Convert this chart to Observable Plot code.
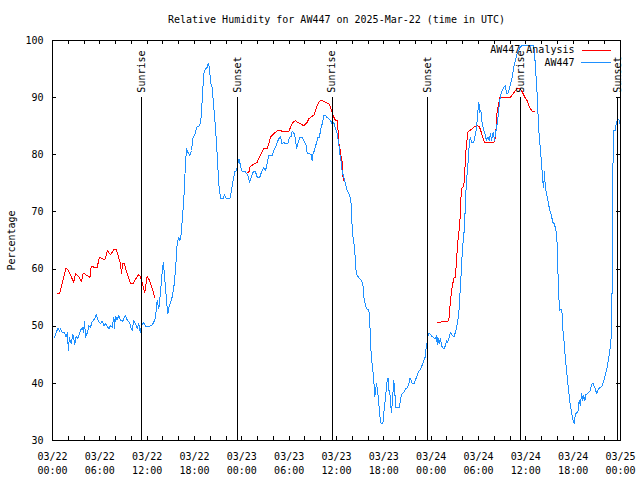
<!DOCTYPE html>
<html><head><meta charset="utf-8">
<script src="https://cdn.jsdelivr.net/npm/d3@7"></script>
<script src="https://cdn.jsdelivr.net/npm/@observablehq/plot@0.6"></script>
<style>html,body{margin:0;padding:0;background:#fff}svg{display:block}</style>
</head><body><div id="chart"></div>
<script>
const title = "Relative Humidity for AW447 on 2025-Mar-22 (time in UTC)";
const yLabel = "Percentage";
const startUTC = Date.UTC(2025, 2, 22, 0, 0);
const xEndHours = 72;
const yTicks = [30, 40, 50, 60, 70, 80, 90, 100];

// AW447 observations: hours since 03/22 00:00 UTC and relative humidity (%)
const blueHours = [0.25,0.67,0.9,1.0,1.22,1.5,1.73,1.94,1.98,2.15,2.37,2.57,2.83,3.0,3.2,3.34,3.55,3.76,3.93,4.06,4.18,4.44,4.6,4.82,4.99,5.33,5.54,5.79,6.08,6.3,6.5,6.72,7.14,7.35,7.57,7.78,7.86,7.99,8.2,8.4,8.62,8.9,9.25,9.47,9.76,9.93,10.1,10.3,10.52,10.74,10.94,11.11,11.28,11.57,11.79,12.2,12.55,12.84,13.06,13.27,13.47,13.69,13.9,14.05,14.32,14.45,14.62,14.75,14.96,15.17,15.38,15.59,15.8,16.0,16.15,16.32,16.44,16.64,16.77,16.98,17.15,17.4,17.62,17.83,18.1,18.25,18.66,18.85,18.97,19.18,19.39,19.6,19.73,19.9,20.03,20.24,20.45,20.66,20.87,21.08,21.3,21.65,21.8,22.02,22.48,22.69,22.9,23.1,23.33,23.5,23.63,23.83,24.04,24.46,24.75,25.0,25.18,25.44,25.73,25.95,26.28,26.5,26.78,27.0,27.2,27.42,27.84,28.05,28.27,28.48,28.69,28.9,29.1,29.32,29.53,29.82,30.04,30.25,30.38,30.58,30.8,30.93,31.1,31.35,31.65,31.86,32.2,32.28,32.5,32.83,32.91,33.0,33.2,33.42,33.63,33.84,33.97,34.18,34.4,34.6,34.82,35.03,35.24,35.45,35.66,35.87,36.08,36.29,36.41,36.6,36.72,36.93,37.14,37.35,37.56,37.77,37.9,37.99,38.2,38.3,38.41,38.62,38.96,39.13,39.34,39.46,39.67,39.88,40.09,40.22,40.31,40.44,40.6,40.73,40.86,40.94,41.07,41.2,41.37,41.49,41.66,41.87,41.99,42.12,42.3,42.42,42.55,42.63,42.75,42.84,42.97,43.06,43.18,43.26,43.39,43.48,43.69,43.99,44.11,44.32,44.54,44.75,44.96,45.17,45.3,45.47,45.6,45.8,46.01,46.22,46.36,46.56,46.73,46.94,47.06,47.24,47.32,47.45,47.57,47.7,47.91,48.12,48.33,48.55,48.7,48.76,48.84,49.0,49.15,49.4,49.6,49.8,49.94,50.1,50.24,50.45,50.66,50.87,51.08,51.3,51.5,51.63,51.8,51.93,52.06,52.23,52.35,52.48,52.65,52.77,52.9,52.98,53.1,53.4,53.53,53.7,53.83,53.96,54.04,54.17,54.3,54.47,54.67,54.88,55.0,55.18,55.35,55.52,55.64,55.86,56.03,56.28,56.44,56.57,56.7,56.87,57.0,57.2,57.42,57.55,57.72,57.84,58.05,58.27,58.47,58.69,58.9,59.1,59.32,59.53,61.0,61.2,61.43,61.64,61.85,62.0,62.14,62.27,62.35,62.48,62.8,63.0,63.2,63.42,63.63,63.85,63.98,64.05,64.18,64.31,64.48,64.6,64.73,64.9,65.02,65.15,65.28,65.45,65.62,65.79,66.0,66.13,66.26,66.43,66.6,66.77,66.9,67.07,67.2,67.33,67.5,67.6,67.8,68.0,68.15,68.37,68.55,68.8,68.97,69.2,69.46,69.67,69.88,70.1,70.31,70.52,70.73,70.86,70.93,71.0,71.13,71.35,71.48,71.65,71.87,72.0];
const blueValues = [48.0,49.65,49.1,49.65,48.95,48.95,48.1,48.95,45.75,48.0,46.9,48.6,46.8,48.3,47.8,48.4,49.25,49.8,48.95,50.9,48.1,48.95,50.1,49.8,50.7,51.3,52.0,51.0,50.4,50.9,50.1,50.4,49.55,50.1,49.8,51.6,49.65,51.7,51.1,51.9,51.0,50.9,51.9,51.1,50.7,49.8,49.25,51.0,50.4,49.55,50.4,48.95,50.1,50.7,50.0,50.0,50.1,50.7,51.6,54.5,53.0,56.0,59.45,61.2,56.8,54.5,52.2,53.3,54.2,55.1,56.8,59.75,64.4,65.6,65.0,66.2,68.5,72.0,76.1,81.05,80.45,79.9,80.75,83.1,83.7,84.8,85.1,86.6,89.5,94.2,95.05,95.3,96.0,95.3,92.7,91.8,88.3,84.8,80.2,74.9,72.3,72.3,73.05,72.3,72.3,73.75,75.5,77.0,77.25,78.4,79.3,78.1,77.0,77.0,76.4,75.2,76.0,77.0,77.0,76.1,76.1,77.0,77.8,77.2,78.4,79.9,79.9,80.75,81.3,82.2,82.8,83.2,81.9,82.2,81.9,81.9,83.1,83.2,84.1,83.9,82.8,81.05,81.9,83.1,83.1,82.5,81.6,80.2,80.2,80.0,79.0,80.0,80.75,81.9,83.0,83.1,84.25,85.4,86.9,86.9,86.5,86.3,86.0,85.4,85.6,84.55,83.7,81.9,80.2,78.7,77.0,76.1,74.9,73.75,73.2,72.3,71.0,66.75,64.4,64.1,60.3,58.9,58.3,58.0,57.5,55.1,53.6,53.0,53.0,51.0,46.9,44.3,42.5,40.5,37.6,38.75,39.9,38.75,36.4,34.4,32.9,32.9,34.7,36.4,38.75,40.5,40.9,38.75,38.75,36.4,34.95,36.4,38.75,40.5,38.75,35.8,35.8,35.8,37.3,38.2,38.5,39.05,39.2,39.9,40.9,40.5,39.9,39.9,40.6,41.4,42.0,42.25,42.8,43.4,44.0,44.6,45.75,46.9,48.1,48.8,48.55,48.2,48.0,47.8,48.3,46.8,48.1,47.0,47.8,46.3,46.0,46.6,47.5,47.2,47.8,48.95,48.4,48.1,48.95,50.4,52.2,55.1,59.2,62.7,65.0,67.3,72.0,75.5,78.1,80.75,82.5,83.1,82.2,82.2,83.1,84.25,86.0,88.3,89.2,87.45,87.75,85.4,84.25,83.4,82.5,83.1,82.5,83.7,82.5,83.95,82.5,84.8,86.0,88.05,89.5,90.7,91.25,91.8,92.1,90.7,90.7,91.25,92.4,93.6,95.3,96.5,97.7,98.25,98.95,99.1,99.1,95.9,90.7,84.25,80.75,78.4,75.5,74.3,77.0,74.3,72.0,70.5,69.6,68.2,67.9,66.45,64.4,60.3,55.1,52.75,53.0,52.2,48.7,46.6,44.0,42.55,40.5,38.45,36.4,34.95,33.5,32.9,34.4,34.95,34.95,37.0,36.1,38.2,37.0,37.9,37.0,38.05,38.2,38.45,38.75,39.9,39.9,39.05,38.2,39.05,39.3,39.6,40.5,41.7,42.8,44.6,46.6,48.7,56.25,74.9,84.25,84.25,85.7,86.3,86.0,84.7];

// AW447 Analysis: hours and values; null marks a gap in the analysis
const redHours = [0.67,0.9,1.73,1.94,2.7,2.92,3.34,3.68,3.89,4.6,4.75,4.9,5.66,5.96,6.63,6.97,7.35,7.82,8.07,8.62,8.75,8.88,9.1,9.67,9.93,10.18,10.86,11.1,11.28,11.57,11.7,12.0,12.3,12.72,12.97,
  18.0,
  24.68,24.9,25.0,25.2,25.7,25.9,26.15,26.45,26.78,27.2,27.42,27.63,27.84,28.27,28.55,28.9,29.1,29.53,29.95,30.17,30.5,30.8,31.0,31.44,31.86,32.28,32.49,32.83,33.13,33.34,33.55,33.76,33.97,34.39,34.6,35.03,35.24,35.45,35.66,35.87,36.08,36.16,36.29,36.41,36.5,36.6,36.72,36.85,37.01,
  43.0,
  48.84,50.03,50.24,50.45,50.66,50.87,51.08,51.2,51.4,51.63,51.8,51.93,52.14,52.26,52.44,52.65,52.9,53.2,53.5,53.83,54.08,54.25,54.46,54.67,54.8,55.94,56.07,56.28,56.36,56.57,56.7,57.55,58.05,58.39,58.69,58.9,59.2,59.57,59.86,60.07,60.17,60.38,60.6,60.81,61.1];
const redValues = [55.67,55.67,60.2,59.9,57.7,59.2,58.6,57.8,59.3,58.7,58.5,60.4,60.3,62.1,61.6,63.2,62.5,63.5,63.5,60.9,59.3,60.9,60.9,58.3,57.4,57.4,59.0,58.8,58.0,56.5,55.9,58.75,58.0,56.25,55.0,
  null,
  76.8,77.0,77.8,78.1,78.5,78.6,79.3,80.2,81.05,81.05,81.9,83.1,83.4,83.95,84.25,84.25,84.1,84.1,84.1,84.8,85.7,86.0,85.7,85.4,85.1,85.7,86.3,86.7,86.9,87.75,88.6,89.2,89.5,89.4,89.2,88.9,88.3,87.45,86.6,86.0,86.0,85.1,81.9,81.6,80.2,79.5,78.7,75.5,75.5,
  null,
  50.7,50.8,51.1,54.5,56.8,58.45,58.5,61.5,65.0,67.9,73.2,74.3,74.5,77.25,81.3,83.95,84.25,84.55,84.95,85.1,84.95,84.4,83.4,82.5,82.1,82.1,82.5,85.4,87.75,88.9,90.1,90.1,90.1,90.7,91.25,91.65,91.65,90.95,90.1,89.6,89.5,88.6,88.05,87.6,87.6];

// Sunrise / sunset markers
const sunHours = [11.28, 23.49, 35.45, 47.57, 59.36, 71.66];
const sunLabels = ["Sunrise", "Sunset", "Sunrise", "Sunset", "Sunrise", "Sunset"];
const sunBottom = 30;
const sunTop = 90;

const legendLabels = ["AW447 Analysis", "AW447"];
const legendColors = ["#ff0000", "#1e90ff"];

const toDate = h => new Date(startUTC + h * 3600e3);
const blue = blueHours.map((h, i) => ({t: toDate(h), v: blueValues[i]}));
const red = redHours.map((h, i) => ({t: toDate(h), v: redValues[i]}));
const sun = sunHours.map((h, i) => ({t: toDate(h), label: sunLabels[i]}));
const xMinorTicks = d3.utcHour.every(2).range(toDate(0), toDate(xEndHours + 0.01));

const W = 640, H = 480, ML = 52, MR = 20, MT = 40, MB = 40;
const FW = W - ML - MR, FH = H - MT - MB;
const TICK = 4;
const lineShape = {draw(ctx, l) { ctx.moveTo(0, 0); ctx.lineTo(0, -l); }};
const FONT = "'DejaVu Sans Mono', 'Liberation Mono', monospace";
const crisp = {shapeRendering: "crispEdges"};
const tickStyle = {stroke: "#000", strokeWidth: 1, ...crisp};

const chart = Plot.plot({
  width: W, height: H,
  marginLeft: ML, marginRight: MR, marginTop: MT, marginBottom: MB,
  style: {fontFamily: FONT, fontSize: "10px", color: "#000", background: "#fff", overflow: "visible"},
  x: {type: "utc", domain: [toDate(0), toDate(xEndHours)]},
  y: {domain: [30, 100]},
  marks: [
    Plot.line(red, {x: "t", y: "v", stroke: legendColors[0], strokeWidth: 1, curve: "linear", ...crisp}),
    Plot.line(blue, {x: "t", y: "v", stroke: legendColors[1], strokeWidth: 1, curve: "linear", ...crisp}),
    Plot.ruleX(sun, {x: "t", y1: sunBottom, y2: sunTop, stroke: "#000", strokeWidth: 1, ...crisp}),
    Plot.text(sun, {x: "t", y: sunTop, text: "label", rotate: -90, textAnchor: "start", lineAnchor: "middle", dy: -5, fill: "#000"}),
    // inward ticks on all four sides
    Plot.ruleX(xMinorTicks, {x: d => d, insetTop: FH - TICK, ...tickStyle}),
    Plot.ruleX(xMinorTicks, {x: d => d, insetBottom: FH - TICK, ...tickStyle}),
    Plot.ruleY(yTicks, {y: d => d, insetRight: FW - TICK, ...tickStyle}),
    Plot.ruleY(yTicks, {y: d => d, insetLeft: FW - TICK, ...tickStyle}),
    // tick labels
    Plot.axisX({anchor: "bottom", ticks: d3.utcHour.every(6), tickSize: 0, tickPadding: 10, lineHeight: 1.4,
      tickFormat: d3.utcFormat("%m/%d\n%H:%M"), label: null, fill: "#000"}),
    Plot.axisY({anchor: "left", ticks: yTicks, tickSize: 0, tickPadding: 9, label: null, fill: "#000"}),
    Plot.frame({stroke: "#000", strokeWidth: 1, ...crisp}),
    Plot.text([title], {text: d => d, frameAnchor: "top", dy: -21, lineAnchor: "middle", textAnchor: "middle", fill: "#000"}),
    Plot.text([yLabel], {text: d => d, frameAnchor: "left", dx: -41, rotate: -90, lineAnchor: "middle", textAnchor: "middle", fill: "#000"}),
    Plot.text([legendLabels[0]], {text: d => d, frameAnchor: "top-right", dx: -46, dy: 9.5, textAnchor: "end", lineAnchor: "middle", fill: "#000"}),
    Plot.text([legendLabels[1]], {text: d => d, frameAnchor: "top-right", dx: -46, dy: 22, textAnchor: "end", lineAnchor: "middle", fill: "#000"}),
    Plot.vector([legendLabels[0]], {frameAnchor: "top-right", dx: -39, dy: 9.5, rotate: 90, length: 29, anchor: "start", shape: lineShape, stroke: legendColors[0], strokeWidth: 1, ...crisp}),
    Plot.vector([legendLabels[1]], {frameAnchor: "top-right", dx: -39, dy: 22, rotate: 90, length: 29, anchor: "start", shape: lineShape, stroke: legendColors[1], strokeWidth: 1, ...crisp})
  ]
});
document.getElementById("chart").appendChild(chart);
</script>
</body></html>
